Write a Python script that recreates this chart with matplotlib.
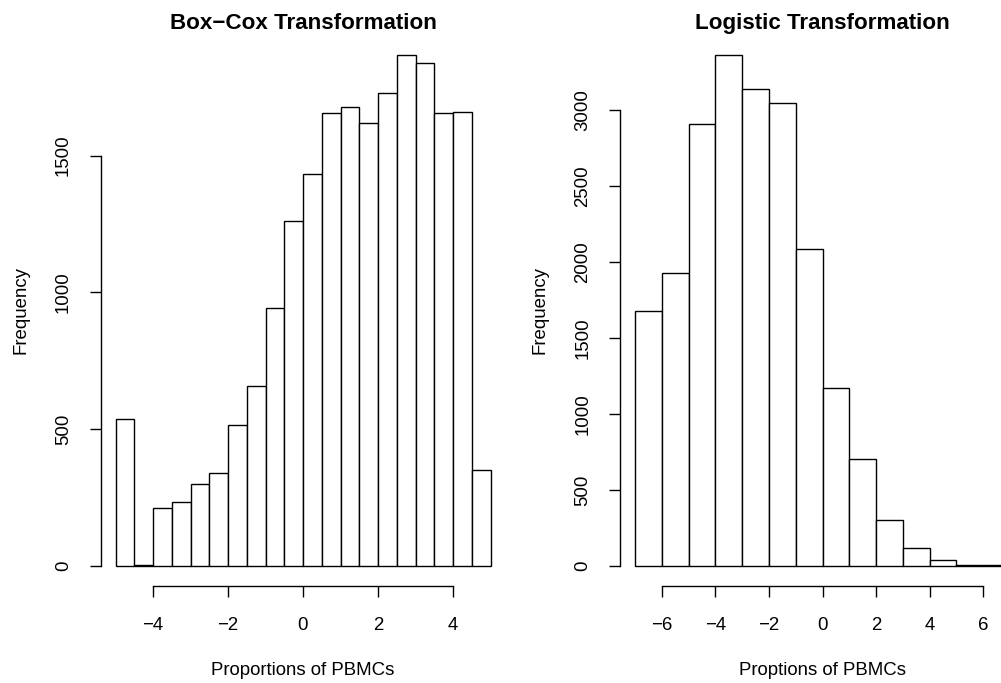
import numpy as np
import matplotlib.pyplot as plt

plt.rcParams['font.family'] = ['Liberation Sans', 'DejaVu Sans']

# Box-Cox transformed proportions: bins of width 0.5 from -5 to 5
boxcox_edges = np.arange(-5, 5.01, 0.5)
boxcox_counts = [537, 3, 211, 233, 300, 341, 516, 659, 941, 1262,
                 1432, 1654, 1676, 1619, 1730, 1868, 1837, 1657, 1660, 349]

# Logistic transformed proportions: bins of width 1 from -7 to 7
logit_edges = np.arange(-7, 7.01, 1)
logit_counts = [1677, 1929, 2906, 3363, 3140, 3043, 2086, 1171, 706, 300,
                117, 37, 9, 3]

boxcox_xticks = [-4, -2, 0, 2, 4]
boxcox_yticks = [0, 500, 1000, 1500]
logit_xticks = [-6, -4, -2, 0, 2, 4, 6]
logit_yticks = [0, 500, 1000, 1500, 2000, 2500, 3000]

W, H = 1001, 683
AX_W, AX_H = 405, 552
AX_BOTTOM = 586.4
FS = 13.44          # base text size
FS_MAIN = 16.13     # bold titles


def r_hist(ax, edges, counts, xticks, yticks, title, xlabel):
    widths = np.diff(edges)
    ax.bar(edges[:-1], counts, width=widths, align='edge',
           facecolor='white', edgecolor='black', linewidth=1.0)
    # R style axis ranges: 4% padding on each side
    xr = edges[-1] - edges[0]
    ax.set_xlim(edges[0] - 0.04 * xr, edges[-1] + 0.04 * xr)
    ymax = max(counts)
    ax.set_ylim(-0.04 * ymax, 1.04 * ymax)

    for s in ['top', 'right']:
        ax.spines[s].set_visible(False)
    ax.spines['left'].set_bounds(yticks[0], yticks[-1])
    ax.spines['bottom'].set_bounds(xticks[0], xticks[-1])
    for s in ['left', 'bottom']:
        ax.spines[s].set_linewidth(1.0)

    ax.set_xticks(xticks)
    ax.set_yticks(yticks)
    ax.set_xticklabels([str(v).replace('-', '\u2212') for v in xticks])
    ax.set_yticklabels([str(v) for v in yticks], rotation=90, va='center')
    ax.tick_params(length=8, width=1.0, labelsize=FS)
    ax.tick_params(axis='x', pad=14.3)
    ax.tick_params(axis='y', pad=12.5)

    ax.set_title(title, fontsize=FS_MAIN, fontweight='bold',
                 y=1 + (34.4 - 29.3) / AX_H, va='baseline', pad=0)
    ax.set_xlabel(xlabel, fontsize=FS, va='baseline')
    ax.xaxis.set_label_coords(0.5, (AX_BOTTOM - 675) / AX_H)
    ax.set_ylabel('Frequency', fontsize=FS, va='baseline')
    ax.yaxis.set_label_coords((25.5 - 100.5) / AX_W, 0.5)


fig = plt.figure(figsize=(W / 100, H / 100), dpi=100)
ax1 = fig.add_axes([100.5 / W, 1 - AX_BOTTOM / H, AX_W / W, AX_H / H])
ax2 = fig.add_axes([620 / W, 1 - AX_BOTTOM / H, AX_W / W, AX_H / H])

r_hist(ax1, boxcox_edges, boxcox_counts, boxcox_xticks, boxcox_yticks,
       'Box\u2212Cox Transformation', 'Proportions of PBMCs')
r_hist(ax2, logit_edges, logit_counts, logit_xticks, logit_yticks,
       'Logistic Transformation', 'Proptions of PBMCs')

fig.savefig('out.png', dpi=100)
